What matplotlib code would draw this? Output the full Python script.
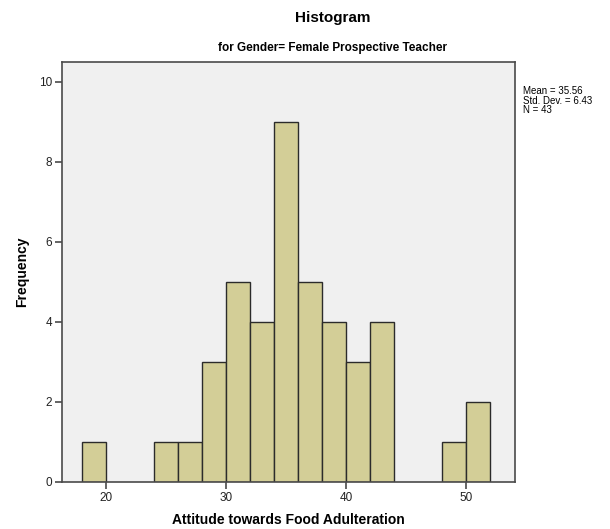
import matplotlib
matplotlib.use("Agg")
import matplotlib.pyplot as plt

plt.rcParams['font.family'] = ['Liberation Sans', 'DejaVu Sans']

bin_left = [18, 24, 26, 28, 30, 32, 34, 36, 38, 40, 42, 48, 50]
counts = [1, 1, 1, 3, 5, 4, 9, 5, 4, 3, 4, 1, 2]
bin_width = 2
x_ticks = [20, 30, 40, 50]
y_ticks = [0, 2, 4, 6, 8, 10]

fig = plt.figure(figsize=(6.1, 5.29), dpi=100)
W, H = 610, 529
left, right, top, bottom = 62, 515, 62, 482
ax = fig.add_axes([left / W, 1 - bottom / H, (right - left) / W, (bottom - top) / H])
ax.set_facecolor('#f0f0f0')
ax.bar(bin_left, counts, width=bin_width, align='edge', color='#d3ce97',
       edgecolor='#2b2b2b', linewidth=1.0, zorder=2)
ax.set_xlim(16.33, 54.1)
ax.set_ylim(0, 10.5)
ax.set_xticks(x_ticks)
ax.set_yticks(y_ticks)
for s in ax.spines.values():
    s.set_color('#4a4a4a')
    s.set_linewidth(1.2)
ax.tick_params(axis='both', direction='out', length=5, width=1.2, color='#4a4a4a',
               labelsize=8.5, labelcolor='#222222', pad=2)
ax.set_xlabel('Attitude towards Food Adulteration', fontsize=10, fontweight='bold', labelpad=7)
ax.set_ylabel('Frequency', fontsize=10, fontweight='bold', labelpad=7)

fig.text(333 / W, 1 - 18 / H, 'Histogram', ha='center', va='center', fontsize=11, fontweight='bold')
fig.text(333 / W, 1 - 48 / H, 'for Gender= Female Prospective Teacher', ha='center', va='center',
         fontsize=8.5, fontweight='bold')
fig.text(523 / W, 1 - 86 / H, 'Mean = 35.56\nStd. Dev. = 6.43\nN = 43', ha='left', va='top',
         fontsize=7, linespacing=0.95)

fig.savefig('out.png', dpi=100)
